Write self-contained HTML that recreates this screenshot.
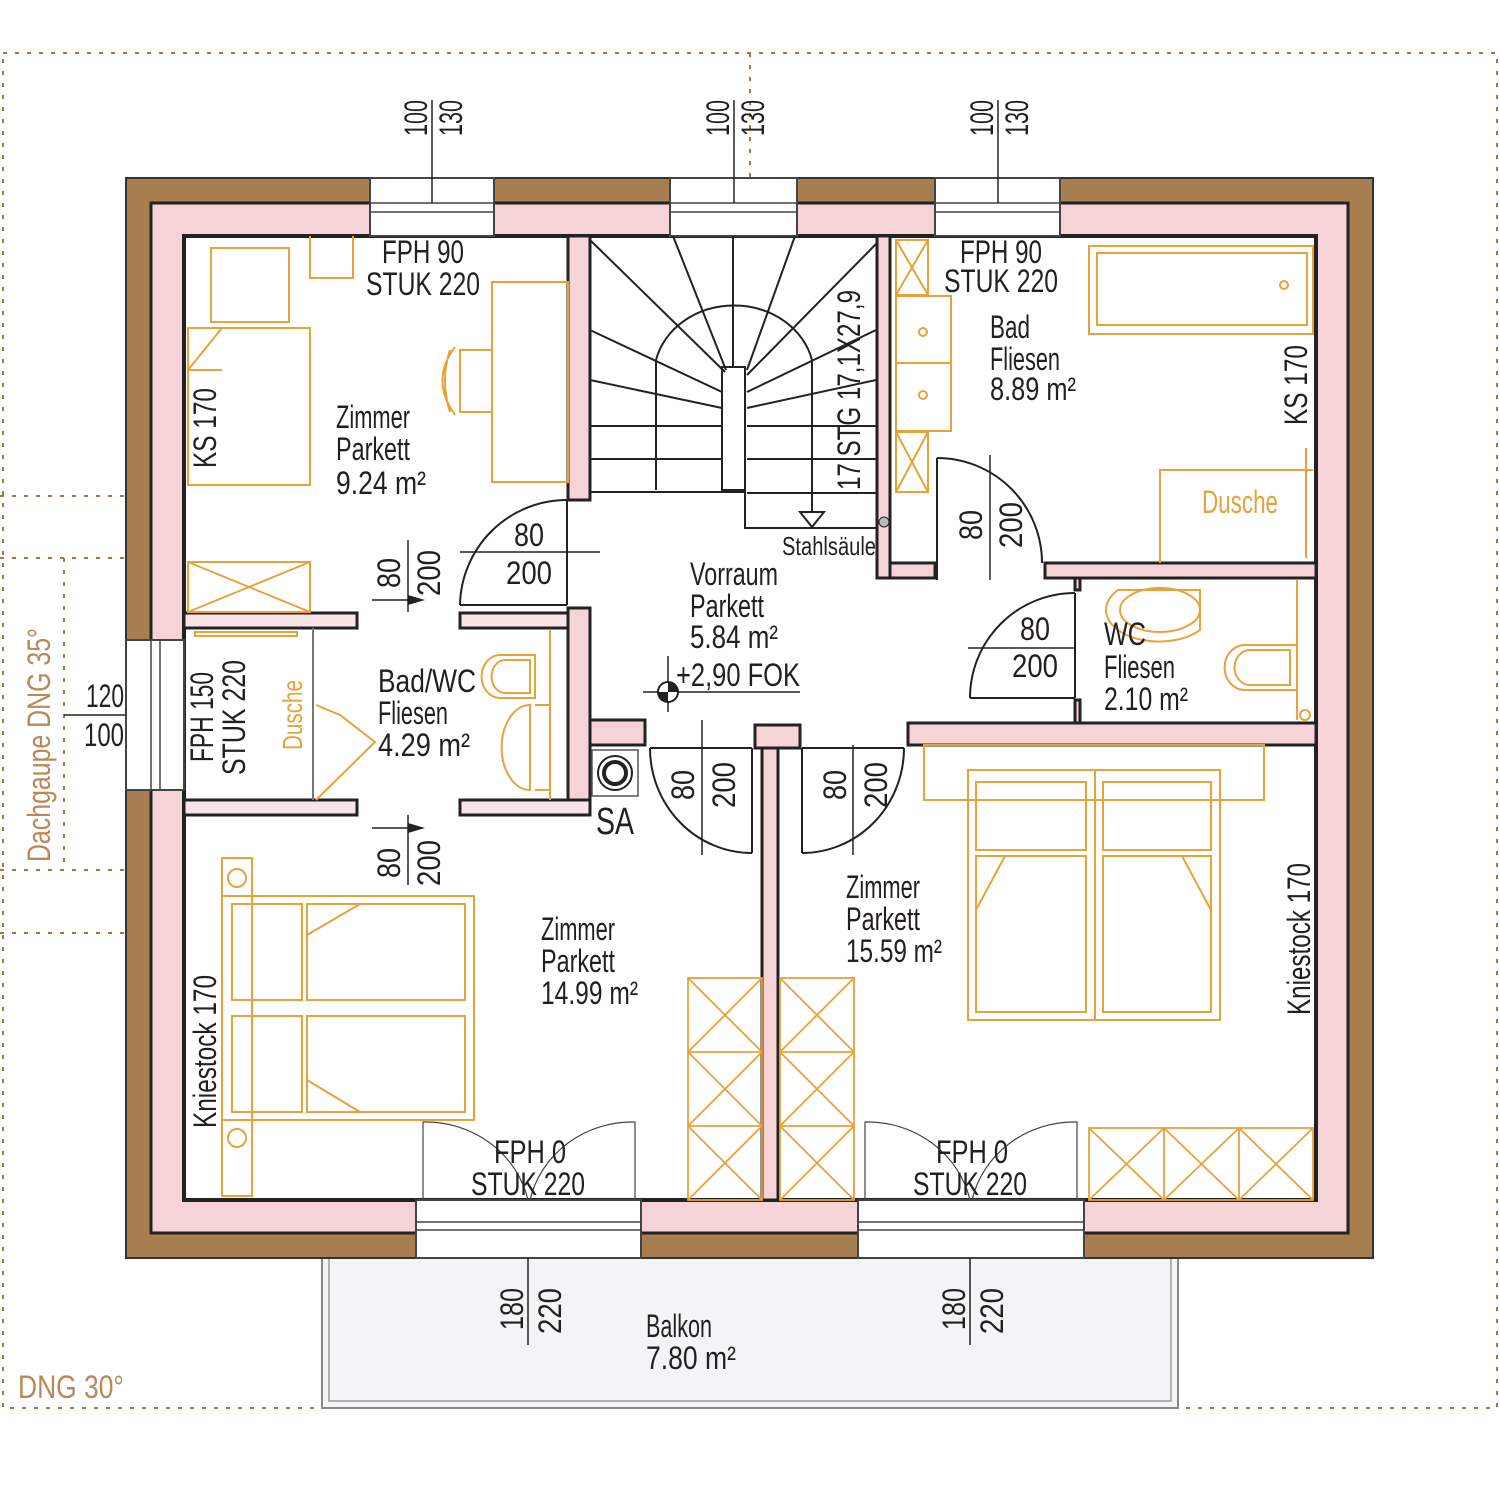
<!DOCTYPE html>
<html><head><meta charset="utf-8"><style>
html,body{margin:0;padding:0;background:#fff}
svg{display:block}
text{font-family:"Liberation Sans Narrow","Liberation Sans",sans-serif;fill:#231f20}
.o{fill:#e8a23a}
.b{fill:#b8895a}
</style></head><body>
<svg width="1500" height="1500" viewBox="0 0 1500 1500" xmlns="http://www.w3.org/2000/svg">
<g stroke="#a8743f" stroke-width="2" stroke-dasharray="4 8" fill="none">
<rect x="3" y="53" width="1494" height="1355"/>
<line x1="750" y1="53" x2="750" y2="1408"/>
<polyline points="0,558 186,558"/><polyline points="0,870 186,870"/>
<line x1="64" y1="558" x2="64" y2="870"/>
<line x1="0" y1="496" x2="250" y2="496"/><line x1="0" y1="933" x2="250" y2="933"/>
<line x1="184" y1="715" x2="520" y2="715"/>
<line x1="250" y1="496" x2="520" y2="715"/><line x1="250" y1="933" x2="520" y2="715"/>
</g>
<rect x="322" y="1258" width="856" height="150" fill="#f3f4f6" stroke="#888" stroke-width="2"/>
<rect x="329" y="1258" width="842" height="143" fill="none" stroke="#999" stroke-width="1.5"/>
<rect x="126" y="178" width="1247" height="1080" fill="#a87d4f" stroke="#333" stroke-width="2"/>
<rect x="151" y="203" width="1197" height="1030" fill="#f6d3d6" stroke="#222" stroke-width="3"/>
<rect x="184" y="236" width="1132" height="964" fill="#fff" stroke="#222" stroke-width="4"/>
<g fill="#fff" stroke="#444" stroke-width="2">
<rect x="370" y="178" width="124" height="58"/><rect x="670" y="178" width="127" height="58"/><rect x="935" y="178" width="125" height="58"/>
<rect x="126" y="640" width="58" height="150"/>
<rect x="416" y="1200" width="225" height="58"/><rect x="858" y="1200" width="226" height="58"/>
</g>
<g stroke="#444" stroke-width="1.5">
<line x1="370" y1="203" x2="494" y2="203"/><line x1="370" y1="212" x2="494" y2="212"/>
<line x1="670" y1="203" x2="797" y2="203"/><line x1="670" y1="212" x2="797" y2="212"/>
<line x1="935" y1="203" x2="1060" y2="203"/><line x1="935" y1="212" x2="1060" y2="212"/>
<line x1="151" y1="640" x2="151" y2="790"/><line x1="160" y1="640" x2="160" y2="790"/>
<line x1="416" y1="1222" x2="641" y2="1222"/><line x1="416" y1="1230" x2="641" y2="1230"/>
<line x1="858" y1="1222" x2="1084" y2="1222"/><line x1="858" y1="1230" x2="1084" y2="1230"/>
</g>
<g fill="#f6d3d6" stroke="#222" stroke-width="3">
<rect x="568" y="236" width="22" height="264"/>
<rect x="877" y="236" width="13" height="342"/>
<rect x="890" y="563" width="45" height="15"/>
<rect x="1045" y="563" width="271" height="15"/>
<rect x="1075" y="578" width="5" height="12"/><rect x="1075" y="700" width="5" height="23"/>
<rect x="908" y="723" width="408" height="22"/>
<rect x="568" y="608" width="22" height="207"/>
<rect x="590" y="720" width="55" height="25"/>
<rect x="762" y="745" width="16" height="455"/>
<rect x="755" y="725" width="45" height="23"/>
</g>
<g fill="#f9e4e8" stroke="#222" stroke-width="3">
<rect x="184" y="613" width="173" height="15"/><rect x="460" y="613" width="108" height="15"/>
<rect x="184" y="800" width="173" height="15"/><rect x="460" y="800" width="130" height="15"/>
</g>
<g stroke="#222" stroke-width="2" fill="none">
<line x1="590" y1="240" x2="725" y2="372"/><line x1="673" y1="236" x2="726" y2="370"/><line x1="733" y1="236" x2="733" y2="368"/>
<line x1="795" y1="236" x2="747" y2="370"/><line x1="876" y1="244" x2="747" y2="375"/><line x1="876" y1="330" x2="747" y2="392"/><line x1="876" y1="380" x2="747" y2="408"/>
<line x1="590" y1="330" x2="722" y2="392"/><line x1="590" y1="380" x2="722" y2="408"/>
<line x1="590" y1="426" x2="722" y2="426"/><line x1="590" y1="459" x2="722" y2="459"/>
<line x1="747" y1="426" x2="876" y2="426"/><line x1="747" y1="459" x2="876" y2="459"/><line x1="747" y1="493" x2="876" y2="493"/>
<path d="M656,490 V360 A80,70 0 0 1 812,360 V512"/>
<rect x="722" y="367" width="23" height="123"/>
<polyline points="745,490 745,528 876,528"/>
<line x1="590" y1="492" x2="745" y2="492"/>
<polygon points="800,512 824,512 812,527"/>
</g>
<circle cx="884" cy="522" r="5" fill="#bbb" stroke="#222"/>
<g stroke="#222" stroke-width="2" fill="none">
<path d="M460,605 A107,107 0 0 1 567,500"/><line x1="460" y1="605" x2="567" y2="605"/><line x1="567" y1="500" x2="567" y2="605"/>
<path d="M937,458 A105,105 0 0 1 1042,563"/><line x1="937" y1="458" x2="937" y2="580"/>
<path d="M970,698 A105,105 0 0 1 1075,593"/><line x1="970" y1="698" x2="1075" y2="698"/><line x1="1075" y1="593" x2="1075" y2="698"/>
<path d="M650,748 A102,105 0 0 0 752,853"/><line x1="752" y1="748" x2="752" y2="853"/>
<path d="M802,853 A102,105 0 0 0 904,748"/><line x1="802" y1="748" x2="802" y2="853"/>
<line x1="650" y1="748" x2="752" y2="748"/><line x1="802" y1="748" x2="904" y2="748"/>
</g>
<g stroke="#444" stroke-width="1.2" fill="none">
<path d="M423,1200 V1122 A105,100 0 0 1 528,1200"/><path d="M635,1200 V1122 A105,100 0 0 0 530,1200"/>
<path d="M865,1200 V1122 A105,100 0 0 1 970,1200"/><path d="M1077,1200 V1122 A105,100 0 0 0 972,1200"/>
</g>
<g stroke="#222" stroke-width="1.5">
<line x1="432" y1="100" x2="432" y2="203"/><line x1="734" y1="100" x2="734" y2="203"/><line x1="998" y1="100" x2="998" y2="203"/>
<line x1="528" y1="1258" x2="528" y2="1345"/><line x1="970" y1="1258" x2="970" y2="1345"/>
<line x1="64" y1="715" x2="126" y2="715"/>
<line x1="460" y1="552" x2="600" y2="552"/><line x1="968" y1="648" x2="1075" y2="648"/>
<line x1="408" y1="540" x2="408" y2="612"/><line x1="408" y1="815" x2="408" y2="885"/>
<line x1="990" y1="455" x2="990" y2="580"/><line x1="702" y1="720" x2="702" y2="855"/><line x1="853" y1="745" x2="853" y2="855"/>
<line x1="643" y1="692" x2="800" y2="692"/><line x1="668" y1="656" x2="668" y2="712"/>
<line x1="372" y1="600" x2="420" y2="600"/><line x1="372" y1="828" x2="420" y2="828"/>
</g>
<circle cx="668" cy="692" r="10" fill="#fff" stroke="#222" stroke-width="2"/>
<path d="M668,682 A10,10 0 0 1 678,692 H668Z M668,702 A10,10 0 0 1 658,692 H668Z" fill="#222"/>
<polygon points="408,595 425,600 408,605" fill="#222"/><polygon points="408,823 425,828 408,833" fill="#222"/>
<rect x="592" y="750" width="46" height="46" fill="#fff" stroke="#555" stroke-width="1.5"/>
<circle cx="615" cy="773" r="17" fill="none" stroke="#222" stroke-width="2"/><circle cx="615" cy="773" r="11" fill="none" stroke="#222" stroke-width="4"/>
<g stroke="#e8a23a" stroke-width="2" fill="none">
<rect x="211" y="248" width="78" height="74"/><polyline points="310,236 310,278 353,278 353,236"/>
<rect x="188" y="328" width="122" height="157"/><line x1="188" y1="370" x2="222" y2="328"/><line x1="188" y1="370" x2="222" y2="370"/>
<rect x="492" y="282" width="76" height="200"/><rect x="460" y="350" width="32" height="62"/>
<path d="M455,347 Q430,380 455,415 M450,350 Q440,380 450,412"/>
<rect x="188" y="562" width="122" height="50"/><line x1="188" y1="562" x2="310" y2="612"/><line x1="310" y1="562" x2="188" y2="612"/>
<rect x="195" y="632" width="102" height="4"/>
<line x1="313" y1="628" x2="313" y2="800" stroke="#777"/>
<polyline points="316,800 375,742 340,715 316,705"/>
<path d="M500,655 H535 V698 H500 A18,21 0 0 1 500,655Z"/><path d="M505,660 H530 V693 H505 A13,16 0 0 1 505,660Z"/>
<path d="M535,705 H550 V790 H535 M530,705 A28,42 0 1 0 530,790 V705Z"/><line x1="550" y1="630" x2="550" y2="800"/>
<rect x="896" y="240" width="32" height="55"/><line x1="896" y1="240" x2="928" y2="295"/><line x1="928" y1="240" x2="896" y2="295"/>
<rect x="896" y="296" width="55" height="135"/><line x1="896" y1="363" x2="951" y2="363"/>
<circle cx="923" cy="332" r="4"/><circle cx="923" cy="395" r="4"/>
<rect x="896" y="432" width="32" height="60"/><line x1="896" y1="432" x2="928" y2="492"/><line x1="928" y1="432" x2="896" y2="492"/>
<rect x="1089" y="246" width="224" height="88"/><rect x="1097" y="253" width="210" height="72"/><circle cx="1284" cy="285" r="4"/>
<polyline points="1160,563 1160,470 1313,470"/><line x1="1306" y1="448" x2="1306" y2="558"/>
<path d="M1118,590 H1200 V630 A42,25 0 0 1 1118,590Z" /><ellipse cx="1160" cy="610" rx="40" ry="22"/>
<path d="M1245,645 H1297 V690 H1245 A20,22 0 0 1 1245,645Z"/><path d="M1250,650 H1290 V685 H1250 A15,17 0 0 1 1250,650Z"/>
<line x1="1297" y1="580" x2="1297" y2="720"/><circle cx="1305" cy="715" r="5"/>
<rect x="924" y="745" width="340" height="55"/><rect x="968" y="770" width="252" height="250"/><line x1="1095" y1="770" x2="1095" y2="1020"/>
<rect x="976" y="782" width="110" height="68"/><rect x="1103" y="782" width="108" height="68"/>
<rect x="976" y="856" width="110" height="156"/><rect x="1103" y="856" width="108" height="156"/>
<line x1="976" y1="910" x2="1005" y2="856"/><line x1="1211" y1="910" x2="1182" y2="856"/>
<rect x="222" y="858" width="30" height="338"/><circle cx="237" cy="878" r="9"/><circle cx="237" cy="1138" r="9"/>
<rect x="222" y="896" width="252" height="224"/><rect x="232" y="904" width="70" height="96"/><rect x="307" y="904" width="158" height="96"/>
<rect x="232" y="1016" width="70" height="96"/><rect x="307" y="1016" width="158" height="96"/>
<line x1="307" y1="935" x2="360" y2="904"/><line x1="307" y1="1080" x2="360" y2="1112"/>
</g>
<g stroke="#e8a23a" stroke-width="1.8" fill="none">
<rect x="688" y="978" width="74" height="222"/><rect x="780" y="978" width="74" height="222"/>
<line x1="688" y1="1052" x2="762" y2="1052"/><line x1="688" y1="1126" x2="762" y2="1126"/>
<line x1="780" y1="1052" x2="854" y2="1052"/><line x1="780" y1="1126" x2="854" y2="1126"/>
<path d="M688,978 L762,1052 M762,978 L688,1052 M688,1052 L762,1126 M762,1052 L688,1126 M688,1126 L762,1200 M762,1126 L688,1200"/>
<path d="M780,978 L854,1052 M854,978 L780,1052 M780,1052 L854,1126 M854,1052 L780,1126 M780,1126 L854,1200 M854,1126 L780,1200"/>
<rect x="1089" y="1128" width="224" height="72"/><line x1="1164" y1="1128" x2="1164" y2="1200"/><line x1="1239" y1="1128" x2="1239" y2="1200"/>
<path d="M1089,1128 L1164,1200 M1164,1128 L1089,1200 M1164,1128 L1239,1200 M1239,1128 L1164,1200 M1239,1128 L1313,1200 M1313,1128 L1239,1200"/>
</g>
<g font-size="32" lengthAdjust="spacingAndGlyphs">
<text x="382" y="263" textLength="82" lengthAdjust="spacingAndGlyphs">FPH 90</text>
<text x="366" y="295" textLength="114" lengthAdjust="spacingAndGlyphs">STUK 220</text>
<text x="960" y="263" textLength="82" lengthAdjust="spacingAndGlyphs">FPH 90</text>
<text x="944" y="292" textLength="114" lengthAdjust="spacingAndGlyphs">STUK 220</text>
<text x="990" y="338" textLength="40" lengthAdjust="spacingAndGlyphs">Bad</text><text x="990" y="370" textLength="70" lengthAdjust="spacingAndGlyphs">Fliesen</text><text x="990" y="400" textLength="86" lengthAdjust="spacingAndGlyphs">8.89 m²</text>
<text x="336" y="428" textLength="74" lengthAdjust="spacingAndGlyphs">Zimmer</text><text x="336" y="460" textLength="74" lengthAdjust="spacingAndGlyphs">Parkett</text><text x="336" y="494" textLength="90" lengthAdjust="spacingAndGlyphs">9.24 m²</text>
<text x="690" y="585" textLength="88" lengthAdjust="spacingAndGlyphs">Vorraum</text><text x="690" y="617" textLength="74" lengthAdjust="spacingAndGlyphs">Parkett</text><text x="690" y="648" textLength="88" lengthAdjust="spacingAndGlyphs">5.84 m²</text>
<text x="676" y="686" fill="#444" textLength="124" lengthAdjust="spacingAndGlyphs">+2,90 FOK</text>
<text x="378" y="692" textLength="98" lengthAdjust="spacingAndGlyphs">Bad/WC</text><text x="378" y="724" textLength="70" lengthAdjust="spacingAndGlyphs">Fliesen</text><text x="378" y="756" textLength="92" lengthAdjust="spacingAndGlyphs">4.29 m²</text>
<text x="1104" y="645" textLength="42" lengthAdjust="spacingAndGlyphs">WC</text><text x="1104" y="678" textLength="71" lengthAdjust="spacingAndGlyphs">Fliesen</text><text x="1104" y="710" textLength="84" lengthAdjust="spacingAndGlyphs">2.10 m²</text>
<text x="846" y="898" textLength="74" lengthAdjust="spacingAndGlyphs">Zimmer</text><text x="846" y="930" textLength="74" lengthAdjust="spacingAndGlyphs">Parkett</text><text x="846" y="962" textLength="96" lengthAdjust="spacingAndGlyphs">15.59 m²</text>
<text x="541" y="940" textLength="74" lengthAdjust="spacingAndGlyphs">Zimmer</text><text x="541" y="972" textLength="74" lengthAdjust="spacingAndGlyphs">Parkett</text><text x="541" y="1004" textLength="97" lengthAdjust="spacingAndGlyphs">14.99 m²</text>
<text x="646" y="1337" textLength="66" lengthAdjust="spacingAndGlyphs">Balkon</text><text x="646" y="1369" textLength="90" lengthAdjust="spacingAndGlyphs">7.80 m²</text>
<text x="494" y="1163" textLength="72" lengthAdjust="spacingAndGlyphs">FPH 0</text>
<text x="471" y="1195" textLength="114" lengthAdjust="spacingAndGlyphs">STUK 220</text>
<text x="936" y="1163" textLength="72" lengthAdjust="spacingAndGlyphs">FPH 0</text>
<text x="913" y="1195" textLength="114" lengthAdjust="spacingAndGlyphs">STUK 220</text>
<text x="514" y="546" textLength="30" lengthAdjust="spacingAndGlyphs">80</text><text x="506" y="584" textLength="46" lengthAdjust="spacingAndGlyphs">200</text>
<text x="1020" y="640" textLength="30" lengthAdjust="spacingAndGlyphs">80</text><text x="1012" y="677" textLength="46" lengthAdjust="spacingAndGlyphs">200</text>
<text x="86" y="707" textLength="38" lengthAdjust="spacingAndGlyphs">120</text><text x="84" y="746" textLength="40" lengthAdjust="spacingAndGlyphs">100</text>
<text x="596" y="834" font-size="38" textLength="38" lengthAdjust="spacingAndGlyphs">SA</text>
<text x="1202" y="513" class="o" textLength="76" lengthAdjust="spacingAndGlyphs">Dusche</text>
<text x="782" y="555" font-size="26" textLength="94" lengthAdjust="spacingAndGlyphs">Stahlsäule</text>
<text x="18" y="1398" class="b" textLength="106" lengthAdjust="spacingAndGlyphs">DNG 30°</text>
</g>
<g font-size="32">
<text transform="translate(427,136) rotate(-90)" textLength="36" lengthAdjust="spacingAndGlyphs">100</text><text transform="translate(462,136) rotate(-90)" textLength="36" lengthAdjust="spacingAndGlyphs">130</text>
<text transform="translate(729,136) rotate(-90)" textLength="36" lengthAdjust="spacingAndGlyphs">100</text><text transform="translate(764,136) rotate(-90)" textLength="36" lengthAdjust="spacingAndGlyphs">130</text>
<text transform="translate(993,136) rotate(-90)" textLength="36" lengthAdjust="spacingAndGlyphs">100</text><text transform="translate(1028,136) rotate(-90)" textLength="36" lengthAdjust="spacingAndGlyphs">130</text>
<text transform="translate(523,1330) rotate(-90)" textLength="42" lengthAdjust="spacingAndGlyphs">180</text><text transform="translate(561,1334) rotate(-90)" textLength="46" lengthAdjust="spacingAndGlyphs">220</text>
<text transform="translate(965,1330) rotate(-90)" textLength="42" lengthAdjust="spacingAndGlyphs">180</text><text transform="translate(1003,1334) rotate(-90)" textLength="46" lengthAdjust="spacingAndGlyphs">220</text>
<text transform="translate(216,468) rotate(-90)" textLength="80" lengthAdjust="spacingAndGlyphs">KS 170</text>
<text transform="translate(1307,425) rotate(-90)" textLength="80" lengthAdjust="spacingAndGlyphs">KS 170</text>
<text transform="translate(216,1128) rotate(-90)" textLength="153" lengthAdjust="spacingAndGlyphs">Kniestock 170</text>
<text transform="translate(1310,1015) rotate(-90)" textLength="152" lengthAdjust="spacingAndGlyphs">Kniestock 170</text>
<text transform="translate(860,490) rotate(-90)" textLength="200" lengthAdjust="spacingAndGlyphs">17 STG 17,1X27,9</text>
<text transform="translate(213,762) rotate(-90)" textLength="90" lengthAdjust="spacingAndGlyphs">FPH 150</text><text transform="translate(245,775) rotate(-90)" textLength="115" lengthAdjust="spacingAndGlyphs">STUK 220</text>
<text transform="translate(302,750) rotate(-90)" class="o" font-size="28" textLength="70" lengthAdjust="spacingAndGlyphs">Dusche</text>
<text transform="translate(400,588) rotate(-90)" textLength="30" lengthAdjust="spacingAndGlyphs">80</text><text transform="translate(440,596) rotate(-90)" textLength="46" lengthAdjust="spacingAndGlyphs">200</text>
<text transform="translate(400,878) rotate(-90)" textLength="30" lengthAdjust="spacingAndGlyphs">80</text><text transform="translate(440,886) rotate(-90)" textLength="46" lengthAdjust="spacingAndGlyphs">200</text>
<text transform="translate(982,540) rotate(-90)" textLength="30" lengthAdjust="spacingAndGlyphs">80</text><text transform="translate(1022,548) rotate(-90)" textLength="46" lengthAdjust="spacingAndGlyphs">200</text>
<text transform="translate(694,800) rotate(-90)" textLength="30" lengthAdjust="spacingAndGlyphs">80</text><text transform="translate(735,808) rotate(-90)" textLength="46" lengthAdjust="spacingAndGlyphs">200</text>
<text transform="translate(846,800) rotate(-90)" textLength="30" lengthAdjust="spacingAndGlyphs">80</text><text transform="translate(887,808) rotate(-90)" textLength="46" lengthAdjust="spacingAndGlyphs">200</text>
<text transform="translate(50,862) rotate(-90)" class="b" textLength="234" lengthAdjust="spacingAndGlyphs">Dachgaupe DNG 35°</text>
</g>
</svg>
</body></html>
